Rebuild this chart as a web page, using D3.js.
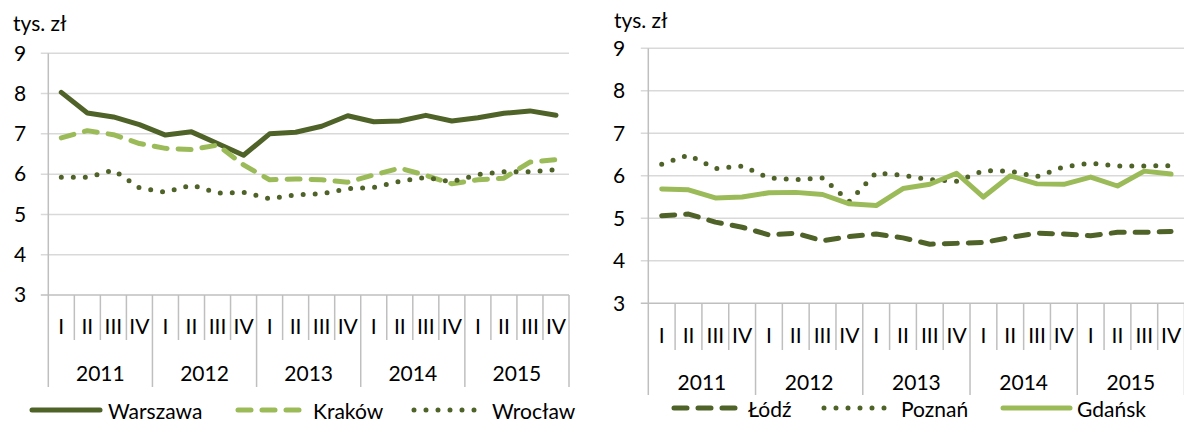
<!DOCTYPE html>
<html>
<head>
<meta charset="utf-8">
<script src="https://cdn.jsdelivr.net/npm/d3@7"></script>
<style>
  body { margin: 0; background: #fff; }
  svg text { font-family: Lato, "Open Sans", sans-serif; fill: #000; }
</style>
</head>
<body>
<svg id="chart" width="1184" height="423"></svg>
<script>
// categories
const years = ["2011", "2012", "2013", "2014", "2015"];
const quarters = ["I", "II", "III", "IV"];
const yTicks = [3, 4, 5, 6, 7, 8, 9];

// left panel series (tys. zł)
const warszawa = [8.03, 7.52, 7.42, 7.23, 6.97, 7.05, 6.76, 6.47, 7.00, 7.04,
                  7.19, 7.45, 7.30, 7.32, 7.46, 7.32, 7.40, 7.51, 7.57, 7.46];
const krakow   = [6.90, 7.08, 6.98, 6.76, 6.64, 6.61, 6.72, 6.23, 5.86, 5.88,
                  5.86, 5.80, 5.98, 6.15, 5.97, 5.76, 5.86, 5.90, 6.30, 6.36];
const wroclaw  = [5.92, 5.92, 6.10, 5.66, 5.55, 5.73, 5.53, 5.55, 5.39, 5.49,
                  5.51, 5.64, 5.67, 5.82, 5.92, 5.81, 5.99, 6.06, 6.06, 6.11];

// right panel series
const lodz    = [5.06, 5.10, 4.91, 4.79, 4.61, 4.65, 4.47, 4.57, 4.63, 4.54,
                 4.39, 4.41, 4.43, 4.55, 4.65, 4.63, 4.59, 4.67, 4.67, 4.69];
const poznan  = [6.27, 6.49, 6.17, 6.23, 5.95, 5.91, 5.95, 5.40, 6.07, 6.01,
                 5.91, 5.87, 6.12, 6.11, 5.98, 6.21, 6.30, 6.23, 6.23, 6.24];
const gdansk  = [5.69, 5.67, 5.48, 5.50, 5.60, 5.61, 5.56, 5.34, 5.30, 5.70,
                 5.80, 6.06, 5.50, 6.00, 5.81, 5.80, 5.97, 5.76, 6.11, 6.04];

const dark = "#4f6228", light = "#9bbb59";
const styles = {
  solid:  { dash: null },
  dashed: { dash: "13,11" },
  dotted: { dash: "0,12" }
};

const cats = years.flatMap(y => quarters.map(q => y + "-" + q));
const svg = d3.select("#chart");

function drawPanel(p) {
  const x = d3.scaleBand().domain(cats).range([p.x0, p.x1]);
  const y = d3.scaleLinear().domain([3, 9]).range([p.yBot, p.yTop]);
  const g = svg.append("g");

  // unit label
  g.append("text").attr("x", p.unitX).attr("y", p.unitY)
    .style("font-size", "21px").text("tys. zł");

  // gridlines
  g.selectAll(".grid").data(yTicks.filter(v => v > 3)).enter().append("line")
    .attr("x1", p.x0 - 7.5).attr("x2", p.x1)
    .attr("y1", d => y(d)).attr("y2", d => y(d))
    .attr("stroke", "#d9d9d9").attr("stroke-width", 1.5);

  // y axis labels
  const ya = g.append("g").attr("transform", `translate(${p.x0},0)`)
    .call(d3.axisLeft(y).tickValues(yTicks).tickFormat(d3.format("d"))
      .tickSize(0).tickPadding(p.pad));
  ya.select(".domain").remove();
  ya.selectAll("text").style("font-size", "21px").attr("font-family", null);

  // axis lines
  g.append("line").attr("x1", p.x0).attr("x2", p.x0)
    .attr("y1", p.yTop).attr("y2", p.yBot)
    .attr("stroke", "#bfbfbf").attr("stroke-width", 1.5);
  g.append("line").attr("x1", p.x0 - 7.5).attr("x2", p.x1)
    .attr("y1", p.yBot).attr("y2", p.yBot)
    .attr("stroke", "#bfbfbf").attr("stroke-width", 1.5);

  // category separators
  const edges = cats.map(c => x(c)).concat([p.x1]);
  g.selectAll(".sep").data(edges).enter().append("line")
    .attr("x1", d => d).attr("x2", d => d)
    .attr("y1", p.yBot)
    .attr("y2", (d, i) => i % 4 === 0 ? p.yearTick : p.qTick)
    .attr("stroke", "#bfbfbf").attr("stroke-width", 1.5);

  // quarter labels
  g.selectAll(".q").data(cats).enter().append("text")
    .attr("x", d => x(d) + x.bandwidth() / 2).attr("y", p.qY)
    .attr("text-anchor", "middle").attr("dominant-baseline", "central")
    .style("font-size", "21px").text(d => d.split("-")[1]);

  // year labels
  g.selectAll(".yr").data(years).enter().append("text")
    .attr("x", d => (x(d + "-I") + x(d + "-IV") + x.bandwidth()) / 2).attr("y", p.yearY)
    .attr("text-anchor", "middle").attr("dominant-baseline", "central")
    .style("font-size", "21px").text(d => d);

  const line = d3.line()
    .x((d, i) => x(cats[i]) + x.bandwidth() / 2)
    .y(d => y(d));

  p.series.forEach(s => {
    g.append("path").datum(s.values)
      .attr("d", line).attr("fill", "none")
      .attr("stroke", s.color).attr("stroke-width", 5)
      .attr("stroke-linecap", "round").attr("stroke-linejoin", "round")
      .attr("stroke-dasharray", styles[s.style].dash);

    // legend
    g.append("line").attr("x1", s.lx0).attr("x2", s.lx1)
      .attr("y1", p.legY).attr("y2", p.legY)
      .attr("stroke", s.color).attr("stroke-width", 5)
      .attr("stroke-linecap", "round")
      .attr("stroke-dasharray", styles[s.style].dash);
    g.append("text").attr("x", s.tx).attr("y", p.legY)
      .attr("dominant-baseline", "central")
      .style("font-size", "21px").text(s.name);
  });
}

drawPanel({
  x0: 48.3, x1: 569, yTop: 53.3, yBot: 295, pad: 22,
  unitX: 13, unitY: 31, qTick: 340, yearTick: 387, qY: 325, yearY: 372, legY: 410,
  series: [
    { name: "Warszawa", values: warszawa, color: dark, style: "solid", lx0: 32, lx1: 100, tx: 108 },
    { name: "Kraków", values: krakow, color: light, style: "dashed", lx0: 238, lx1: 302, tx: 313 },
    { name: "Wrocław", values: wroclaw, color: dark, style: "dotted", lx0: 414, lx1: 484, tx: 492 }
  ]
});

drawPanel({
  x0: 648.3, x1: 1184.5, yTop: 48.3, yBot: 303.3, pad: 23,
  unitX: 614, unitY: 28, qTick: 350, yearTick: 395, qY: 334, yearY: 381, legY: 408,
  series: [
    { name: "Łódź", values: lodz, color: dark, style: "dashed", lx0: 674, lx1: 736, tx: 748 },
    { name: "Poznań", values: poznan, color: dark, style: "dotted", lx0: 824, lx1: 890, tx: 901 },
    { name: "Gdańsk", values: gdansk, color: light, style: "solid", lx0: 1003, lx1: 1070, tx: 1077 }
  ]
});
</script>
</body>
</html>
